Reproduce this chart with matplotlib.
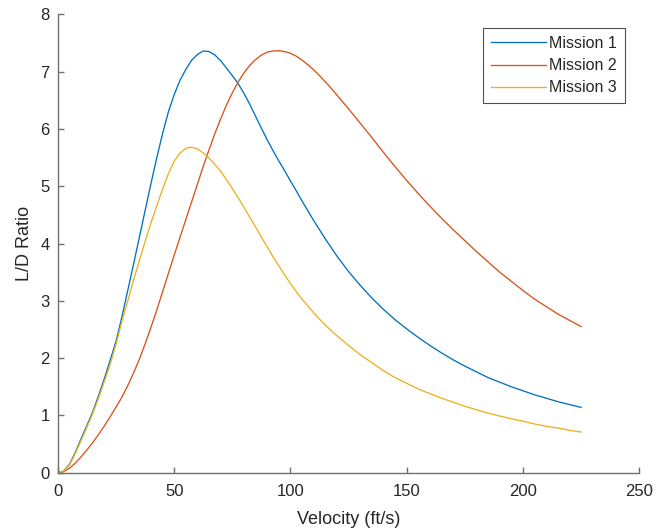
import matplotlib
matplotlib.use('Agg')
from matplotlib import pyplot as plt

# L/D ratio vs velocity for the three missions
velocity = [0, 2.5, 5, 7.5, 10, 12.5, 15, 17.5, 20, 22.5, 25, 27.5, 30, 32.5,
            35, 37.5, 40, 42.5, 45, 47.5, 50, 52.5, 55, 57.5, 60, 62.5, 65,
            67.5, 70, 72.5, 75, 77.5, 80, 82.5, 85, 87.5, 90, 92.5, 95, 97.5,
            100, 102.5, 105, 107.5, 110, 112.5, 115, 117.5, 120, 125, 130,
            135, 140, 145, 150, 155, 160, 165, 170, 175, 180, 185, 190, 195,
            200, 205, 210, 215, 220, 225]

mission1 = [0.0, 0.03, 0.15, 0.36, 0.6, 0.83, 1.07, 1.35, 1.65, 1.97, 2.3,
            2.72, 3.18, 3.64, 4.11, 4.58, 5.05, 5.5, 5.92, 6.3, 6.6, 6.85,
            7.04, 7.2, 7.3, 7.36, 7.35, 7.29, 7.19, 7.06, 6.93, 6.79, 6.62,
            6.43, 6.22, 6.01, 5.81, 5.62, 5.44, 5.27, 5.09, 4.92, 4.74, 4.57,
            4.4, 4.24, 4.08, 3.93, 3.78, 3.51, 3.27, 3.05, 2.85, 2.67, 2.51,
            2.36, 2.22, 2.09, 1.97, 1.86, 1.76, 1.66, 1.58, 1.5, 1.43, 1.36,
            1.3, 1.24, 1.19, 1.14]

mission2 = [0.0, 0.02, 0.08, 0.17, 0.28, 0.4, 0.53, 0.67, 0.82, 0.98, 1.15,
            1.32, 1.52, 1.74, 1.98, 2.25, 2.54, 2.84, 3.16, 3.48, 3.8, 4.11,
            4.42, 4.73, 5.04, 5.35, 5.64, 5.92, 6.18, 6.42, 6.63, 6.82, 6.98,
            7.11, 7.21, 7.29, 7.34, 7.36, 7.365, 7.35, 7.32, 7.27, 7.2, 7.12,
            7.03, 6.93, 6.82, 6.71, 6.59, 6.35, 6.1, 5.85, 5.59, 5.34, 5.1,
            4.87, 4.65, 4.44, 4.24, 4.05, 3.86, 3.68, 3.5, 3.34, 3.18, 3.03,
            2.9, 2.77, 2.66, 2.55]

mission3 = [0.0, 0.03, 0.14, 0.34, 0.57, 0.8, 1.04, 1.31, 1.6, 1.9, 2.25,
            2.64, 3.0, 3.36, 3.7, 4.04, 4.36, 4.66, 4.95, 5.22, 5.44, 5.58,
            5.66, 5.68, 5.65, 5.58, 5.49, 5.38, 5.26, 5.11, 4.96, 4.8, 4.63,
            4.46, 4.29, 4.11, 3.94, 3.77, 3.61, 3.45, 3.3, 3.16, 3.03, 2.91,
            2.79, 2.68, 2.58, 2.48, 2.39, 2.22, 2.06, 1.92, 1.78, 1.66, 1.56,
            1.46, 1.38, 1.3, 1.23, 1.16, 1.1, 1.04, 0.99, 0.94, 0.9, 0.85,
            0.81, 0.78, 0.74, 0.71]

labels = ['Mission 1', 'Mission 2', 'Mission 3']
colors = ['#0072BD', '#D95319', '#EDB120']

plt.rcParams['font.family'] = ['Liberation Sans', 'DejaVu Sans']

fig = plt.figure(figsize=(6.56, 5.29), dpi=100)
ax = fig.add_axes([0.0884, 0.1064, 0.886, 0.8665])

for series, lab, col in zip([mission1, mission2, mission3], labels, colors):
    ax.plot(velocity, series, color=col, linewidth=0.95, label=lab)

ax.set_xlim(0, 250)
ax.set_ylim(0, 8)
ax.set_xticks([0, 50, 100, 150, 200, 250])
ax.set_yticks(range(0, 9))

for side in ['top', 'right']:
    ax.spines[side].set_visible(False)
for side in ['left', 'bottom']:
    ax.spines[side].set_color('#707070')
    ax.spines[side].set_linewidth(1.0)

ax.tick_params(direction='in', length=4.5, width=1.0, color='#707070',
               labelsize=12, labelcolor='#262626')
ax.tick_params(axis='x', pad=8)
ax.tick_params(axis='y', pad=6)

ax.set_xlabel('Velocity (ft/s)', fontsize=13, color='#262626', labelpad=9)
ax.set_ylabel('L/D Ratio', fontsize=13, color='#262626', labelpad=5)

leg = ax.legend(loc='upper right', bbox_to_anchor=(0.975, 0.97),
                borderaxespad=0, fontsize=11.5, frameon=True, fancybox=False,
                handlelength=3.4, handletextpad=0.2, labelspacing=0.45,
                borderpad=0.5)
leg.get_frame().set_edgecolor('#262626')
leg.get_frame().set_linewidth(0.8)
for t in leg.get_texts():
    t.set_color('#262626')

fig.savefig('out.png', dpi=100)
